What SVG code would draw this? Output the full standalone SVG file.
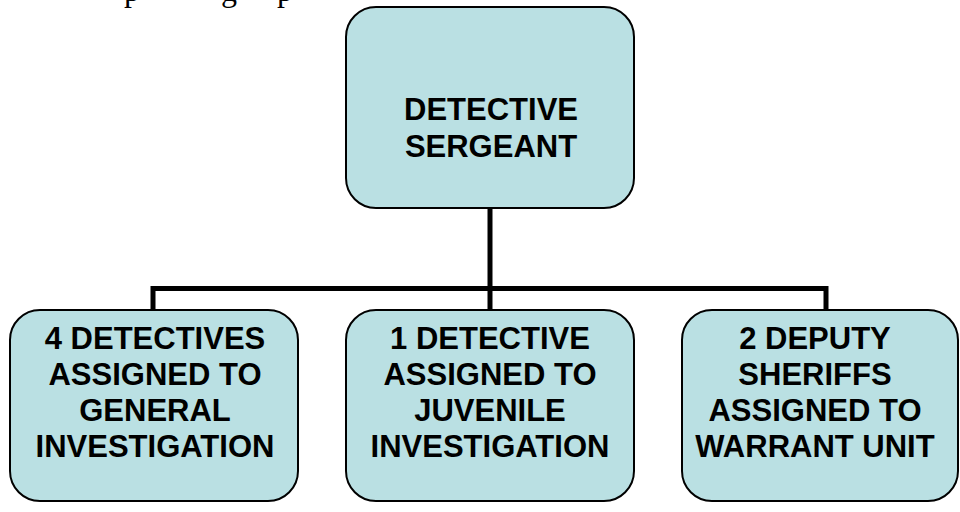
<svg xmlns="http://www.w3.org/2000/svg" width="960" height="512" viewBox="0 0 960 512">
<style>
.box{fill:#BAE0E3;stroke:#000;stroke-width:2}
.lbl{font-family:"Liberation Sans",Arial,sans-serif;font-weight:bold;font-size:31px;fill:#000;text-anchor:middle}
.conn{fill:none;stroke:#000;stroke-width:5;stroke-linejoin:miter}
.frag{font-family:"Liberation Serif","Times New Roman",serif;font-size:32px;fill:#000}
</style>
<rect width="960" height="512" fill="#fff"/>
<text class="frag" x="124 221 277" y="1">pgp</text>
<g id="connectors">
<path class="conn" d="M153,311 V288.5 H826 V311"/>
<path class="conn" d="M490,207 V311"/>
</g>
<g id="node-sergeant">
<rect class="box" x="346" y="7" width="288" height="201" rx="30"/>
<text class="lbl" x="491" y="120">DETECTIVE</text>
<text class="lbl" x="491" y="157">SERGEANT</text>
</g>
<g id="node-general">
<rect class="box" x="10" y="310" width="288" height="191" rx="30"/>
<text class="lbl" x="155" y="349">4 DETECTIVES</text>
<text class="lbl" x="155" y="385">ASSIGNED TO</text>
<text class="lbl" x="155" y="421">GENERAL</text>
<text class="lbl" x="155" y="457">INVESTIGATION</text>
</g>
<g id="node-juvenile">
<rect class="box" x="346" y="310" width="288" height="191" rx="30"/>
<text class="lbl" x="490" y="349">1 DETECTIVE</text>
<text class="lbl" x="490" y="385">ASSIGNED TO</text>
<text class="lbl" x="490" y="421">JUVENILE</text>
<text class="lbl" x="490" y="457">INVESTIGATION</text>
</g>
<g id="node-warrant">
<rect class="box" x="682" y="310" width="276" height="191" rx="30"/>
<text class="lbl" x="815" y="349">2 DEPUTY</text>
<text class="lbl" x="815" y="385">SHERIFFS</text>
<text class="lbl" x="815" y="421">ASSIGNED TO</text>
<text class="lbl" x="815" y="457">WARRANT UNIT</text>
</g>
</svg>
